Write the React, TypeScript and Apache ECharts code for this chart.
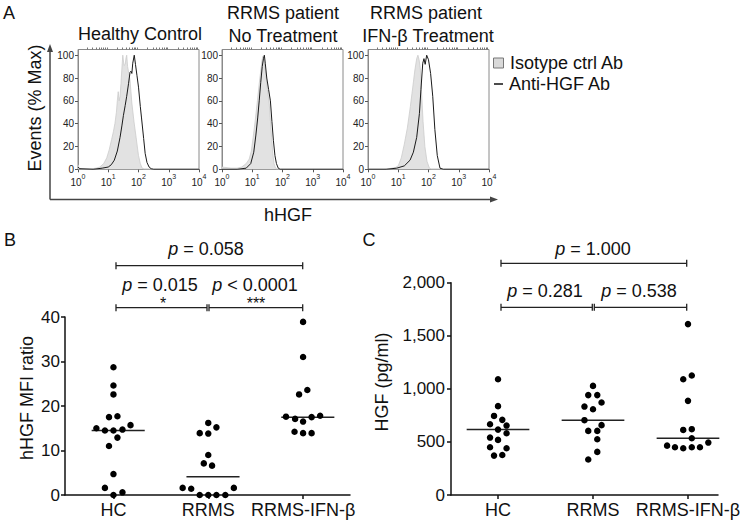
import { useEffect, useRef } from "react";
import * as echarts from "echarts";

const FONT = "'Liberation Sans', Arial, Helvetica, sans-serif";
const INK = "#111";

// ---------- Panel A: flow histograms, points are [log10(hHGF), % of max] ----------
const hcIsotype = [
  [0, 4], [0.04, 1], [0.1, 0.3], [0.4, 0.3], [0.6, 1], [0.72, 2], [0.85, 5], [0.95, 10], [1.03, 17],
  [1.11, 26], [1.17, 33], [1.22, 40], [1.27, 50], [1.3, 60], [1.33, 68], [1.36, 60], [1.39, 64],
  [1.42, 75], [1.45, 88], [1.48, 100], [1.52, 91], [1.56, 92], [1.59, 98], [1.61, 100], [1.64, 90],
  [1.68, 84], [1.72, 78], [1.75, 68], [1.78, 58], [1.85, 42], [1.92, 28], [2.0, 12], [2.06, 5],
  [2.12, 1], [2.2, 0], [4, 0],
];
const hcAntiHGF = [
  [0, 2], [0.05, 0.5], [0.5, 0], [0.8, 1], [1.0, 2], [1.1, 4], [1.2, 8], [1.3, 16], [1.39, 28],
  [1.45, 38], [1.5, 47], [1.56, 56], [1.61, 64], [1.67, 75], [1.72, 85], [1.75, 86], [1.78, 84],
  [1.81, 93], [1.86, 100], [1.9, 92], [1.95, 82], [2.0, 72], [2.06, 55], [2.1, 45], [2.17, 27],
  [2.22, 14], [2.28, 6], [2.35, 2], [2.42, 0.5], [2.5, 0], [4, 0],
];
const rrmsIsotype = [
  [0, 2], [0.3, 1], [0.5, 1], [0.65, 2], [0.8, 5], [0.9, 9], [0.97, 16], [1.03, 28], [1.1, 43],
  [1.17, 60], [1.23, 75], [1.28, 86], [1.32, 95], [1.35, 99], [1.37, 98], [1.4, 93], [1.45, 82],
  [1.5, 70], [1.56, 58], [1.6, 43], [1.64, 28], [1.68, 14], [1.72, 5], [1.77, 1], [1.82, 0], [4, 0],
];
const rrmsAntiHGF = [
  [0, 0], [0.5, 0], [0.8, 1], [0.95, 5], [1.05, 15], [1.12, 30], [1.18, 45], [1.23, 60], [1.28, 76],
  [1.33, 90], [1.37, 97], [1.4, 100], [1.43, 93], [1.48, 80], [1.54, 70], [1.6, 60], [1.65, 42],
  [1.7, 25], [1.75, 12], [1.8, 5], [1.86, 1], [1.92, 0], [4, 0],
];
const ifnIsotype = [
  [0, 0], [0.5, 0], [0.7, 0.5], [0.9, 1.5], [1.0, 3], [1.1, 10], [1.2, 22], [1.3, 36], [1.4, 55],
  [1.48, 72], [1.55, 87], [1.61, 97], [1.65, 100], [1.69, 96], [1.73, 88], [1.77, 68], [1.82, 42],
  [1.88, 20], [1.95, 7], [2.03, 1], [2.1, 0], [4, 0],
];
const ifnAntiHGF = [
  [0, 0], [0.6, 0], [0.95, 1], [1.2, 3], [1.39, 8], [1.5, 15], [1.61, 28], [1.7, 49], [1.75, 70],
  [1.81, 93], [1.85, 97], [1.89, 92], [1.94, 100], [2.0, 96], [2.07, 84], [2.14, 64], [2.21, 35],
  [2.29, 12], [2.38, 1], [2.49, 0], [4, 0],
];
const histTitles = [["Healthy Control"], ["RRMS patient", "No Treatment"], ["RRMS patient", "IFN-β Treatment"]];
const histDecades = [0, 1, 2, 3, 4];
const histYTicks = [0, 20, 40, 60, 80, 100];
const legendNames = ["Isotype ctrl Ab", "Anti-HGF Ab"];

// ---------- Panels B and C ----------
const groups = ["HC", "RRMS", "RRMS-IFN-β"];

const mfiHC = [28.7, 24.6, 22.6, 17.5, 17.7, 15.0, 15.7, 14.5, 14.5, 14.7, 12.9, 11.0, 4.7, 1.6, 0.6, 0];
const mfiRRMS = [16.2, 15.2, 13.9, 13.8, 9.0, 7.1, 6.6, 1.6, 1.4, 1.6, 0, 0, 0, 0];
const mfiIFN = [38.9, 31.0, 23.6, 22.6, 17.6, 17.1, 17.5, 17.8, 16.5, 14.2, 13.9, 13.9];
const mfiMedians = [14.5, 4.1, 17.5];
const mfiTicks = [0, 10, 20, 30, 40];

const hgfHC = [1091, 837, 745, 708, 667, 654, 616, 582, 541, 519, 450, 440, 371, 377];
const hgfRRMS = [1028, 941, 941, 833, 871, 808, 705, 658, 604, 604, 525, 406, 334];
const hgfIFN = [1610, 1126, 1091, 887, 613, 620, 535, 465, 450, 440, 450, 450, 494];
const hgfMedians = [616, 705, 535];
const hgfTicks = [0, 500, 1000, 1500, 2000];

// horizontal spread of the dots (in category widths)
const jitMfiHC = [0, 0, 0, -0.047, 0.042, -0.18, 0.18, -0.09, 0, 0.095, 0.042, -0.047, 0, -0.09, 0.095, 0];
const jitMfiRRMS = [0, 0.086, -0.09, 0, 0, -0.047, 0.04, -0.27, -0.18, 0.27, -0.09, 0, 0.086, 0.18];
const jitMfiIFN = [0, 0, 0.045, -0.042, -0.18, -0.084, 0.09, 0.18, 0, -0.09, 0, 0.09];
const jitHgfHC = [0, 0, -0.042, 0.045, -0.084, 0.09, 0, 0.09, -0.084, 0, -0.084, 0.09, -0.042, 0.045];
const jitHgfRRMS = [0, -0.05, 0.045, -0.09, 0.09, 0, -0.09, 0.09, -0.05, 0.045, 0.045, 0.045, -0.05];
const jitHgfIFN = [0, 0.04, -0.05, 0, -0.05, 0.04, 0.04, -0.22, -0.137, -0.05, 0.04, 0.126, 0.214];

const pB = ["0.058", "0.015", "< 0.0001"];
const starsB = ["*", "***"];
const pC = ["1.000", "0.281", "0.538"];

function pText(v: string) {
  return v.startsWith("<") ? `{i|p}{n| ${v}}` : `{i|p}{n| = ${v}}`;
}

function buildOption() {
  const histGridLefts = [78, 222, 368];
  const histSets = [
    [hcIsotype, hcAntiHGF],
    [rrmsIsotype, rrmsAntiHGF],
    [ifnIsotype, ifnAntiHGF],
  ];
  const minorLog: number[] = [];
  for (let d = 0; d < 4; d++) for (let k = 2; k <= 9; k++) minorLog.push(d + Math.log10(k));

  const grid: any[] = [];
  const xAxis: any[] = [];
  const yAxis: any[] = [];
  const series: any[] = [];
  const graphic: any[] = [];

  const axisTxt = { fontFamily: FONT, color: "#222" };

  histGridLefts.forEach((left) => {
    grid.push({ left, top: 49.5, width: 121, height: 119.8, show: true, borderColor: "#8a8a8a", borderWidth: 1 });
  });
  histGridLefts.forEach((_, i) => {
    xAxis.push({
      type: "value", gridIndex: i, min: 0, max: 4, interval: 1,
      axisLine: { show: true, lineStyle: { color: "#8a8a8a", width: 1 } },
      axisTick: { show: true, length: 3, lineStyle: { color: "#555" } },
      splitLine: { show: false },
      axisLabel: {
        ...axisTxt, margin: 4,
        formatter: (v: number) => `{b|10}{s|${histDecades[v]}}`,
        rich: {
          b: { fontSize: 10, lineHeight: 14, verticalAlign: "bottom", fontFamily: FONT, color: "#222" },
          s: { fontSize: 7, lineHeight: 14, verticalAlign: "top", fontFamily: FONT, color: "#222" },
        },
      },
    });
  });
  histGridLefts.forEach((_, i) => {
    xAxis.push({
      type: "value", gridIndex: i, min: 0, max: 4,
      axisLine: { show: false }, axisLabel: { show: false }, splitLine: { show: false },
      axisTick: { show: true, length: 2, customValues: minorLog, lineStyle: { color: "#777" } },
    });
  });
  histGridLefts.forEach((_, i) => {
    yAxis.push({
      type: "value", gridIndex: i, min: 0, max: 105,
      axisLine: { show: true, lineStyle: { color: "#8a8a8a", width: 1 } },
      axisTick: { show: true, length: 3, customValues: histYTicks, lineStyle: { color: "#555" } },
      minorTick: { show: false },
      splitLine: { show: false },
      axisLabel: { ...axisTxt, fontSize: 10, margin: 4, customValues: histYTicks },
    });
  });
  histSets.forEach(([iso, anti], i) => {
    series.push({
      type: "line", xAxisIndex: i, yAxisIndex: i, data: iso, symbol: "none", z: 2,
      lineStyle: { color: "#cccccc", width: 0.8 }, areaStyle: { color: "#e2e2e2", opacity: 1 },
    });
    series.push({
      type: "line", xAxisIndex: i, yAxisIndex: i, data: anti, symbol: "none", z: 3,
      lineStyle: { color: "#1a1a1a", width: 1 },
    });
  });

  // ----- Panel B (grid 3) and C (grid 4) -----
  grid.push({ left: 65, top: 317, width: 285, height: 178 });
  grid.push({ left: 451, top: 282.7, width: 267, height: 212.3 });

  const catAxis = (gi: number, min: number, max: number) => ({
    type: "value", gridIndex: gi, min, max,
    axisLine: { show: true, lineStyle: { color: INK, width: 1.5 } },
    axisTick: { show: true, length: 4, customValues: [1, 2, 3], lineStyle: { color: INK, width: 1.5 } },
    splitLine: { show: false },
    axisLabel: {
      customValues: [1, 2, 3], formatter: (v: number) => groups[Math.round(v) - 1],
      fontFamily: FONT, fontSize: 18, color: INK, margin: 6,
    },
  });
  xAxis.push(catAxis(3, 0.489, 3.495)); // index 6
  xAxis.push(catAxis(4, 0.505, 3.316)); // index 7

  yAxis.push({
    type: "value", gridIndex: 3, min: 0, max: 40, interval: 10,
    axisLine: { show: true, lineStyle: { color: INK, width: 1.5 } },
    axisTick: { show: true, length: 4, customValues: mfiTicks, lineStyle: { color: INK, width: 1.5 } },
    splitLine: { show: false },
    axisLabel: { fontFamily: FONT, fontSize: 17, color: INK, margin: 5, customValues: mfiTicks },
  });
  yAxis.push({
    type: "value", gridIndex: 4, min: 0, max: 2000, interval: 500,
    axisLine: { show: true, lineStyle: { color: INK, width: 1.5 } },
    axisTick: { show: true, length: 4, customValues: hgfTicks, lineStyle: { color: INK, width: 1.5 } },
    splitLine: { show: false },
    axisLabel: {
      fontFamily: FONT, fontSize: 17, color: INK, margin: 6, customValues: hgfTicks,
      formatter: (v: number) => v.toLocaleString("en-US"),
    },
  });

  const dotSets = [
    { xi: 6, yi: 3, vals: [mfiHC, mfiRRMS, mfiIFN], jit: [jitMfiHC, jitMfiRRMS, jitMfiIFN], med: mfiMedians, span: [-0.23, 0.33] },
    { xi: 7, yi: 4, vals: [hgfHC, hgfRRMS, hgfIFN], jit: [jitHgfHC, jitHgfRRMS, jitHgfIFN], med: hgfMedians, span: [-0.33, 0.33] },
  ];
  dotSets.forEach((set) => {
    set.vals.forEach((vals, g) => {
      series.push({
        type: "scatter", xAxisIndex: set.xi, yAxisIndex: set.yi, symbolSize: 6.5,
        itemStyle: { color: "#000", opacity: 1 }, z: 4,
        data: vals.map((v, k) => [g + 1 + set.jit[g][k], v]),
      });
      series.push({
        type: "line", xAxisIndex: set.xi, yAxisIndex: set.yi, symbol: "none", z: 3,
        lineStyle: { color: "#222", width: 1.5 },
        data: [[g + 1 + set.span[0], set.med[g]], [g + 1 + set.span[1], set.med[g]]],
      });
    });
  });

  // ----- graphics -----
  const txt = (x: number, y: number, text: string, size = 18, opts: any = {}) => ({
    type: "text", x, y, ...opts.el,
    style: { text, fontSize: size, fontFamily: FONT, fill: INK, align: "center", verticalAlign: "middle", ...opts.style },
  });
  const ptxt = (x: number, y: number, v: string) => ({
    type: "text", x, y,
    style: {
      text: pText(v), align: "center", verticalAlign: "middle", fontSize: 18, fontFamily: FONT, fill: INK,
      rich: {
        i: { fontStyle: "italic", fontSize: 18, fontFamily: FONT, fill: INK },
        n: { fontSize: 18, fontFamily: FONT, fill: INK },
      },
    },
  });
  const line = (x1: number, y1: number, x2: number, y2: number, color = "#222", w = 1.3) => ({
    type: "line", shape: { x1, y1, x2, y2 }, style: { stroke: color, lineWidth: w },
  });
  const bracket = (x1: number, x2: number, y: number) => [
    line(x1, y, x2, y), line(x1, y - 3.5, x1, y + 3.5), line(x2, y - 3.5, x2, y + 3.5),
  ];

  // panel letters
  graphic.push(txt(9, 13, "A"), txt(10, 240, "B"), txt(369, 240, "C"));
  // histogram titles
  graphic.push(txt(140, 34, histTitles[0][0]));
  graphic.push(txt(283, 12.5, histTitles[1][0]), txt(283, 36, histTitles[1][1]));
  graphic.push(txt(426, 12.5, histTitles[2][0]), txt(428, 36, histTitles[2][1]));
  // legend
  graphic.push({ type: "rect", shape: { x: 493.5, y: 58, width: 10, height: 10 }, style: { fill: "#d9d9d9", stroke: "#777", lineWidth: 1 } });
  graphic.push(txt(510, 62.5, legendNames[0], 18, { style: { align: "left" } }));
  graphic.push(line(494, 84, 503, 84, "#111", 1.5));
  graphic.push(txt(509, 84, legendNames[1], 18, { style: { align: "left" } }));
  // outer arrows panel A
  graphic.push(line(50, 199.5, 50, 50, "#444", 1.5));
  graphic.push({ type: "polygon", shape: { points: [[50, 44], [47, 52], [53, 52]] }, style: { fill: "#444" } });
  graphic.push(line(50, 199.5, 492, 199.5, "#444", 1.5));
  graphic.push({ type: "polygon", shape: { points: [[498, 199.5], [490, 196.5], [490, 202.5]] }, style: { fill: "#444" } });
  graphic.push(txt(35, 108, "Events (% Max)", 18, { el: { rotation: Math.PI / 2 } }));
  graphic.push(txt(288, 215, "hHGF"));
  // y-axis names
  graphic.push(txt(27, 398, "hHGF MFI ratio", 18, { el: { rotation: Math.PI / 2 } }));
  graphic.push(txt(382, 382, "HGF (pg/ml)", 18, { el: { rotation: Math.PI / 2 } }));
  // panel B brackets
  graphic.push(...bracket(116, 302.7, 265.7), ...bracket(116, 207, 307.7), ...bracket(209, 302.7, 307.7));
  graphic.push(ptxt(206, 249, pB[0]), ptxt(160, 285, pB[1]), ptxt(255, 285, pB[2]));
  graphic.push(txt(163, 303, starsB[0], 16), txt(256, 303, starsB[1], 16));
  // panel C brackets
  graphic.push(...bracket(501, 686.7, 263.3), ...bracket(501, 592.3, 307.3), ...bracket(594.3, 686.7, 307.3));
  graphic.push(ptxt(593, 249, pC[0]), ptxt(545, 290.5, pC[1]), ptxt(639, 290.5, pC[2]));

  return {
    animation: false,
    backgroundColor: "#fff",
    textStyle: { fontFamily: FONT },
    grid, xAxis, yAxis, series, graphic,
  };
}

export default function App() {
  const ref = useRef<HTMLDivElement>(null);
  useEffect(() => {
    if (!ref.current) return;
    const chart = echarts.init(ref.current, undefined, { renderer: "svg" });
    chart.setOption(buildOption() as any);
    return () => chart.dispose();
  }, []);
  return <div ref={ref} style={{ position: "fixed", left: 0, top: 0, width: 747, height: 526 }} />;
}
